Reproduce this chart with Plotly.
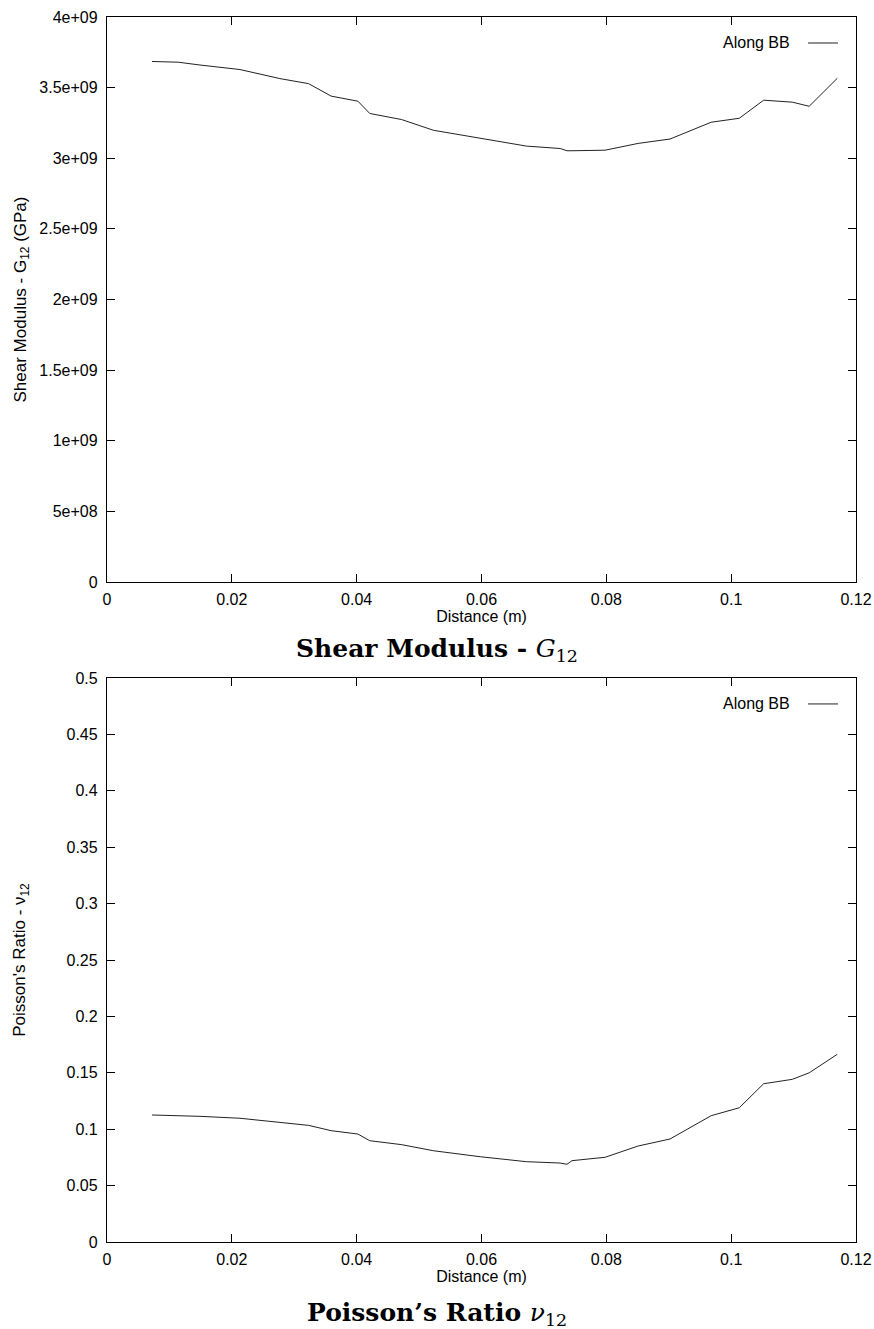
import plotly.graph_objects as go

# Shared x positions (Distance, m)
distance_m = [0.0072, 0.0114, 0.0149, 0.0213, 0.0277, 0.0323, 0.0359, 0.0402, 0.0421,
              0.0472, 0.0523, 0.0598, 0.0672, 0.0726, 0.0737, 0.0745, 0.0798, 0.0851,
              0.0902, 0.0968, 0.1013, 0.1052, 0.1098, 0.1125, 0.1170]

# Shear modulus G12 along BB
g12_along_bb = [3.685e9, 3.680e9, 3.660e9, 3.628e9, 3.564e9, 3.528e9, 3.440e9, 3.404e9, 3.317e9,
                3.274e9, 3.198e9, 3.140e9, 3.086e9, 3.069e9, 3.053e9, 3.053e9, 3.057e9, 3.105e9,
                3.136e9, 3.255e9, 3.283e9, 3.411e9, 3.397e9, 3.368e9, 3.566e9]

# Poisson's ratio nu12 along BB
nu12_along_bb = [0.1126, 0.1123, 0.1114, 0.1097, 0.1064, 0.1034, 0.0987, 0.0957, 0.0898,
                 0.0863, 0.0809, 0.0756, 0.0712, 0.0700, 0.0689, 0.0721, 0.0751, 0.0851,
                 0.0913, 0.1120, 0.1190, 0.1403, 0.1442, 0.1500, 0.1664]

x_tickvals = [0, 0.02, 0.04, 0.06, 0.08, 0.1, 0.12]
x_ticktext = ["0", "0.02", "0.04", "0.06", "0.08", "0.1", "0.12"]
g_tickvals = [0, 0.5e9, 1e9, 1.5e9, 2e9, 2.5e9, 3e9, 3.5e9, 4e9]
g_ticktext = ["0", "5e+08", "1e+09", "1.5e+09", "2e+09", "2.5e+09", "3e+09", "3.5e+09", "4e+09"]
nu_tickvals = [0, 0.05, 0.1, 0.15, 0.2, 0.25, 0.3, 0.35, 0.4, 0.45, 0.5]
nu_ticktext = ["0", "0.05", "0.1", "0.15", "0.2", "0.25", "0.3", "0.35", "0.4", "0.45", "0.5"]

W, H = 874, 1329
ML, MR, MT, MB = 107, 18, 17, 87
ph = H - MT - MB
pw = W - ML - MR
top_dom = [1 - 565 / ph, 1]
bot_dom = [0, 564 / ph]
caption_x = (W / 2 - ML) / pw  # captions centred on the whole figure

sans = "Liberation Sans, Arial, sans-serif"
serif = "DejaVu Serif, Liberation Serif, serif"
FS = 16

fig = go.Figure()
fig.add_trace(go.Scatter(x=distance_m, y=g12_along_bb, mode="lines",
                         line=dict(color="#222222", width=1), xaxis="x", yaxis="y",
                         showlegend=False))
fig.add_trace(go.Scatter(x=distance_m, y=nu12_along_bb, mode="lines",
                         line=dict(color="#222222", width=1), xaxis="x2", yaxis="y2",
                         showlegend=False))

axis_common = dict(showline=True, linecolor="black", linewidth=1.3, mirror="ticks",
                   ticks="inside", ticklen=8, tickwidth=1, tickcolor="black",
                   showgrid=False, zeroline=False, automargin=False,
                   tickfont=dict(family=sans, size=FS, color="black"))

fig.update_layout(
    width=W, height=H,
    margin=dict(l=ML, r=MR, t=MT, b=MB),
    paper_bgcolor="white", plot_bgcolor="white",
    xaxis=dict(domain=[0, 1], anchor="y", range=[0, 0.12], tickvals=x_tickvals,
               ticktext=x_ticktext, ticklabelstandoff=3,
               title=dict(text="Distance (m)", font=dict(family=sans, size=FS, color="black"),
                          standoff=0),
               **axis_common),
    yaxis=dict(domain=top_dom, anchor="x", range=[0, 4e9], tickvals=g_tickvals,
               ticktext=g_ticktext, ticklabelstandoff=5,
               title=dict(text="Shear Modulus - G<sub>12</sub> (GPa)",
                          font=dict(family=sans, size=17, color="black"), standoff=8),
               **axis_common),
    xaxis2=dict(domain=[0, 1], anchor="y2", range=[0, 0.5] if False else [0, 0.12],
                tickvals=x_tickvals, ticktext=x_ticktext, ticklabelstandoff=3,
                title=dict(text="Distance (m)", font=dict(family=sans, size=FS, color="black"),
                           standoff=0),
                **axis_common),
    yaxis2=dict(domain=bot_dom, anchor="x2", range=[0, 0.5], tickvals=nu_tickvals,
                ticktext=nu_ticktext, ticklabelstandoff=5,
                title=dict(text="Poisson's Ratio - ν<sub>12</sub>",
                           font=dict(family=sans, size=17, color="black"), standoff=36),
                **axis_common),
)

# Bottom captions
fig.add_annotation(text="<b>Shear Modulus - </b><i>G</i><sub>12</sub>",
                   xref="paper", yref="y domain", x=caption_x, y=-0.12, yanchor="middle",
                   showarrow=False, font=dict(family=serif, size=25, color="black"))
fig.add_annotation(text="<b>Poisson’s Ratio </b><i>ν</i><sub>12</sub>",
                   xref="paper", yref="y2 domain", x=caption_x, y=-0.128, yanchor="middle",
                   showarrow=False, font=dict(family=serif, size=25, color="black"))

# Gnuplot-style keys (text then line sample)
for yref in ["y domain", "y2 domain"]:
    fig.add_annotation(text="Along BB", xref="paper", yref=yref, x=0.914, y=0.954,
                       xanchor="right", yanchor="middle", showarrow=False,
                       font=dict(family=sans, size=FS, color="black"))
    fig.add_shape(type="line", xref="paper", yref=yref, x0=0.936, x1=0.976,
                  y0=0.954, y1=0.954, line=dict(color="#222222", width=1))

fig.write_html("out.html", config={"displayModeBar": False},
               post_script="document.body.style.margin='0';document.body.style.padding='0';")
